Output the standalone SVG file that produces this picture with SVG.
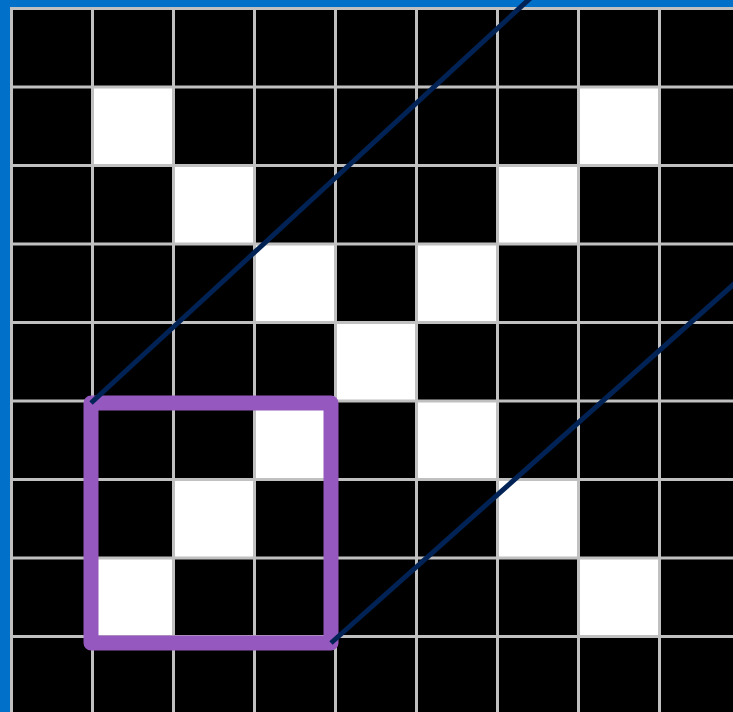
<svg xmlns="http://www.w3.org/2000/svg" width="733" height="712" viewBox="0 0 733 712">
  <defs>
    <style>
      .cell { fill: #ffffff; }
      .grid line { stroke: #c0c0c0; stroke-width: 3; }
      .ray { stroke: #002255; stroke-width: 5; fill: none; }
      .box { fill: none; stroke: #9558be; stroke-width: 15; stroke-linejoin: round; }
    </style>
  </defs>
  <rect x="0" y="0" width="733" height="712" fill="#0070c8"/>
  <rect x="10" y="7" width="723" height="705" fill="#000000"/>
  <g id="cells">
    <rect class="cell" x="92.5" y="87" width="81" height="78.5"/>
    <rect class="cell" x="578.5" y="87" width="81" height="78.5"/>
    <rect class="cell" x="173.5" y="165.5" width="81" height="78.5"/>
    <rect class="cell" x="497.5" y="165.5" width="81" height="78.5"/>
    <rect class="cell" x="254.5" y="244" width="81" height="78.5"/>
    <rect class="cell" x="416.5" y="244" width="81" height="78.5"/>
    <rect class="cell" x="335.5" y="322.5" width="81" height="78.5"/>
    <rect class="cell" x="254.5" y="401" width="81" height="78.5"/>
    <rect class="cell" x="416.5" y="401" width="81" height="78.5"/>
    <rect class="cell" x="173.5" y="479.5" width="81" height="78.5"/>
    <rect class="cell" x="497.5" y="479.5" width="81" height="78.5"/>
    <rect class="cell" x="92.5" y="558" width="81" height="78.5"/>
    <rect class="cell" x="578.5" y="558" width="81" height="78.5"/>
  </g>
  <g class="grid" id="grid">
    <line x1="11.5" y1="7" x2="11.5" y2="712"/>
    <line x1="92.5" y1="7" x2="92.5" y2="712"/>
    <line x1="173.5" y1="7" x2="173.5" y2="712"/>
    <line x1="254.5" y1="7" x2="254.5" y2="712"/>
    <line x1="335.5" y1="7" x2="335.5" y2="712"/>
    <line x1="416.5" y1="7" x2="416.5" y2="712"/>
    <line x1="497.5" y1="7" x2="497.5" y2="712"/>
    <line x1="578.5" y1="7" x2="578.5" y2="712"/>
    <line x1="659.5" y1="7" x2="659.5" y2="712"/>
    <line x1="10" y1="8.5" x2="733" y2="8.5"/>
    <line x1="10" y1="87" x2="733" y2="87"/>
    <line x1="10" y1="165.5" x2="733" y2="165.5"/>
    <line x1="10" y1="244" x2="733" y2="244"/>
    <line x1="10" y1="322.5" x2="733" y2="322.5"/>
    <line x1="10" y1="401" x2="733" y2="401"/>
    <line x1="10" y1="479.5" x2="733" y2="479.5"/>
    <line x1="10" y1="558" x2="733" y2="558"/>
    <line x1="10" y1="636.5" x2="733" y2="636.5"/>
  </g>
  <g id="window">
    <rect class="box" x="91" y="403" width="240" height="240"/>
  </g>
  <g id="connectors">
    <line class="ray" x1="91" y1="403" x2="537" y2="-8"/>
    <line class="ray" x1="331" y1="643" x2="743" y2="276"/>
  </g>
</svg>
